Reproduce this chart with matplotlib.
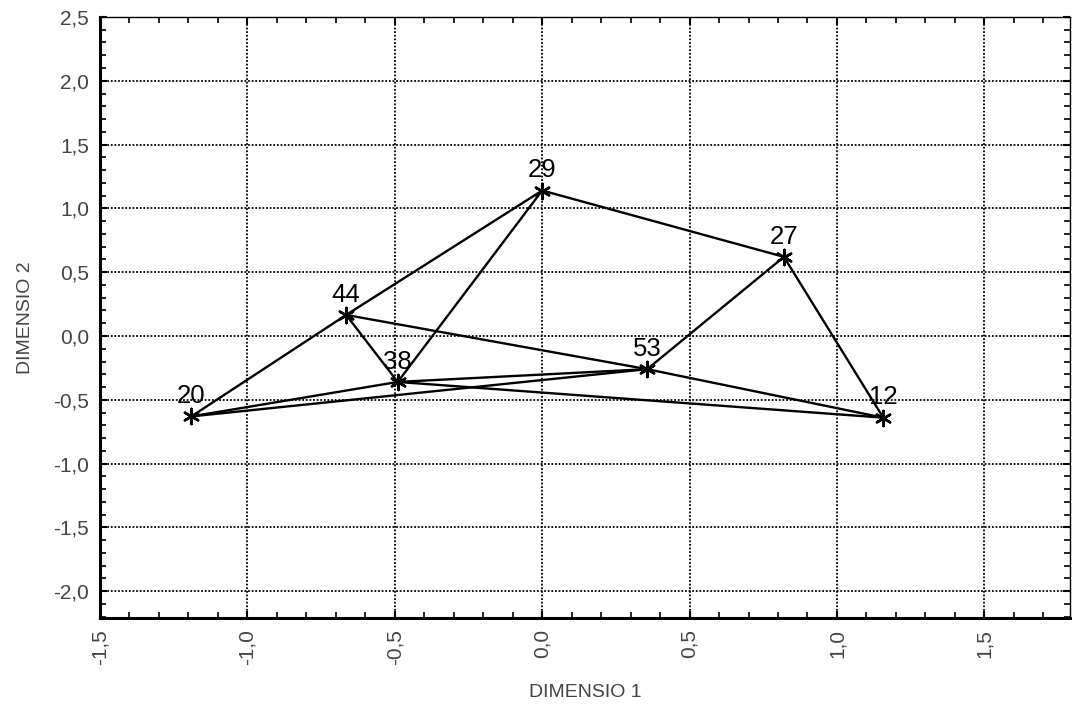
import matplotlib
matplotlib.use("Agg")
import matplotlib.pyplot as plt
from matplotlib.ticker import MultipleLocator, FuncFormatter

# point coordinates
labels = ["20", "44", "38", "29", "27", "53", "12"]
dim1 = [-1.19, -0.665, -0.49, 0.0, 0.82, 0.356, 1.157]
dim2 = [-0.63, 0.165, -0.36, 1.14, 0.62, -0.26, -0.64]

# connections between the points
edges = [("20", "44"), ("20", "38"), ("20", "53"),
         ("44", "29"), ("44", "38"), ("44", "53"), ("53", "12"),
         ("38", "29"), ("38", "53"), ("38", "12"),
         ("29", "27"), ("27", "53"), ("27", "12")]

plt.rcParams['font.family'] = ['Liberation Sans', 'DejaVu Sans']

fig = plt.figure(figsize=(10.72, 7.06), dpi=100)
ax = fig.add_axes([0.0933, 0.1246, 0.9047, 0.8514])

pos = {lab: (x, y) for lab, x, y in zip(labels, dim1, dim2)}
for a, b in edges:
    ax.plot([pos[a][0], pos[b][0]], [pos[a][1], pos[b][1]], color='black', lw=1.7, zorder=3)

ax.scatter(dim1, dim2, marker=(6, 2, 0), s=120, color='black', linewidths=1.8, zorder=4)
for lab, x, y in zip(labels, dim1, dim2):
    ax.annotate(lab, (x, y), xytext=(0, 6), textcoords='offset points',
                ha='center', va='bottom', fontsize=18.5, zorder=5)

ax.set_xlim(-1.5, 1.79)
ax.set_ylim(-2.21, 2.5)
ax.xaxis.set_major_locator(MultipleLocator(0.5))
ax.xaxis.set_minor_locator(MultipleLocator(0.1))
ax.yaxis.set_major_locator(MultipleLocator(0.5))
ax.yaxis.set_minor_locator(MultipleLocator(0.1))
comma = FuncFormatter(lambda v, p: f"{v:.1f}".replace(".", ",").replace("-0,0", "0,0"))
ax.xaxis.set_major_formatter(comma)
ax.yaxis.set_major_formatter(comma)

ax.grid(True, which='major', linestyle=(0, (1, 1)), color='black', lw=1.3)
ax.tick_params(which='both', direction='in', top=True, right=True, colors='black',
               labelcolor='#444444', labelsize=15)
ax.tick_params(which='major', length=5, width=1.5)
ax.tick_params(which='minor', length=4, width=1.2)
ax.tick_params(axis='x', labelrotation=90, pad=8)
ax.tick_params(axis='y', pad=8)

for side in ['top', 'right']:
    ax.spines[side].set_linewidth(1.0)
for side in ['left', 'bottom']:
    ax.spines[side].set_linewidth(2.2)

ax.set_xlabel('DIMENSIO 1', fontsize=14, color='#444444', labelpad=14)
ax.set_ylabel('DIMENSIO 2', fontsize=14, color='#444444', labelpad=14)

plt.savefig('out.png', dpi=100)
plt.close()
